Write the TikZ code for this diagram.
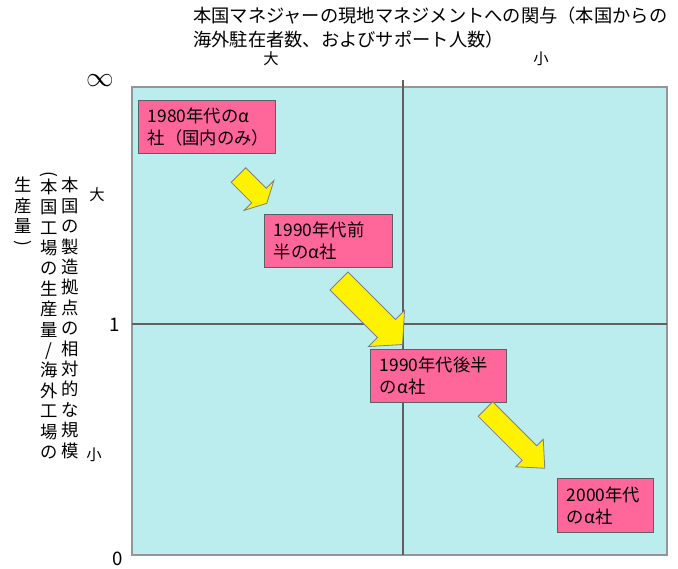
\documentclass[tikz,border=0pt]{standalone}
\usepackage{graphicx}
\usepackage{fontspec}
\setmainfont{Noto Sans CJK JP}
\definecolor{plotbg}{RGB}{187,236,238}
\definecolor{boxpink}{RGB}{255,102,153}
\definecolor{framegray}{RGB}{150,150,150}
\definecolor{linegray}{RGB}{95,95,95}
\tikzset{
  period/.style={draw=linegray, line width=0.9pt, fill=boxpink, rectangle, inner xsep=7pt, inner ysep=0pt,
    align=left, font=\fontsize{13}{16.5}\selectfont, anchor=north west},
  blockarrow/.style={draw=gray, line width=0.6pt, fill=yellow, line join=miter},
  vcol/.style={align=center, inner sep=0pt, anchor=north, font=\fontsize{13}{15.3}\selectfont},
  ticklabel/.style={inner sep=0pt, font=\fontsize{14}{16}\selectfont},
  sidelabel/.style={inner sep=0pt, font=\fontsize{11.5}{13}\selectfont}
}
\newcommand{\myblockarrow}[7]{% tx ty s h w W
  \begin{scope}[shift={(#1,#2)}, rotate=-45]
    \path[blockarrow] (0,-#5) -- (#3,-#5) -- (#3,-#6) -- (#3+#4,0) -- (#3,#6) -- (#3,#5) -- (0,#5) -- cycle;
  \end{scope}}
\newcommand{\vopen}{\rotatebox[origin=c]{-90}{(}}
\newcommand{\vclose}{\rotatebox[origin=c]{-90}{)}}
\begin{document}
\begin{tikzpicture}[x=0.75pt, y=-0.75pt]
\useasboundingbox (0,0) rectangle (678,568);
% plot area
\fill[plotbg] (132,87) rectangle (667,555);
\draw[framegray, line width=1.5pt] (132,87) rectangle (667,555);
\coordinate (vtop) at (403,80);
\coordinate (vbot) at (403,555);
\coordinate (hleft) at (132,324);
\coordinate (hright) at (667,324);
\draw[linegray, line width=0.9pt] (vtop) -- (vbot);
\draw[linegray, line width=0.9pt] (hleft) -- (hright);
% title
\node[anchor=north west, inner sep=0pt, align=left, font=\fontsize{13.7}{18}\selectfont] (title) at (193,7)
  {本国マネジャーの現地マネジメントへの関与（本国からの\\海外駐在者数、およびサポート人数）};
\node[sidelabel] (big) at (271,59) {大};
\node[sidelabel] (small) at (541,59) {小};
% y tick labels
\node[ticklabel, font=\fontsize{20}{20}\selectfont] (inf) at (100,81) {$\infty$};
\node[ticklabel] (one) at (115,325) {1};
\node[ticklabel] (zero) at (118,559) {0};
\node[sidelabel] (vbig) at (97,195) {大};
\node[sidelabel] (vsmall) at (94,455) {小};
% vertical axis title
\node[vcol] (col1) at (70,177) {本\\国\\の\\製\\造\\拠\\点\\の\\相\\対\\的\\な\\規\\模};
\node[vcol] (col2) at (49,171) {\vopen\\[-5pt]本\\国\\工\\場\\の\\生\\産\\量\\/\\海\\外\\工\\場\\の};
\node[vcol] (col3) at (23,177) {生\\産\\量\\[-3pt]\vclose};
% period boxes
\node[period, minimum width=137*0.75pt, minimum height=53*0.75pt, text width=137*0.75pt-14pt] (b1) at (138,100) {1980年代のα\\社（国内のみ）};
\node[period, minimum width=128*0.75pt, minimum height=53*0.75pt, text width=128*0.75pt-14pt] (b2) at (264,214) {1990年代前\\半のα社};
\node[period, minimum width=136*0.75pt, minimum height=53*0.75pt, text width=136*0.75pt-14pt] (b3) at (370,349) {1990年代後半\\のα社};
\node[period, minimum width=96*0.75pt, minimum height=54*0.75pt, text width=96*0.75pt-14pt] (b4) at (557,478) {2000年代\\のα社};
% block arrows
\myblockarrow{238.5}{175}{29}{11}{10.3}{21}{}
\myblockarrow{339}{281}{67.2}{22.6}{12.7}{25.5}{}
\myblockarrow{485.5}{409}{62.2}{21.6}{10.3}{19.5}{}
\end{tikzpicture}
\end{document}
